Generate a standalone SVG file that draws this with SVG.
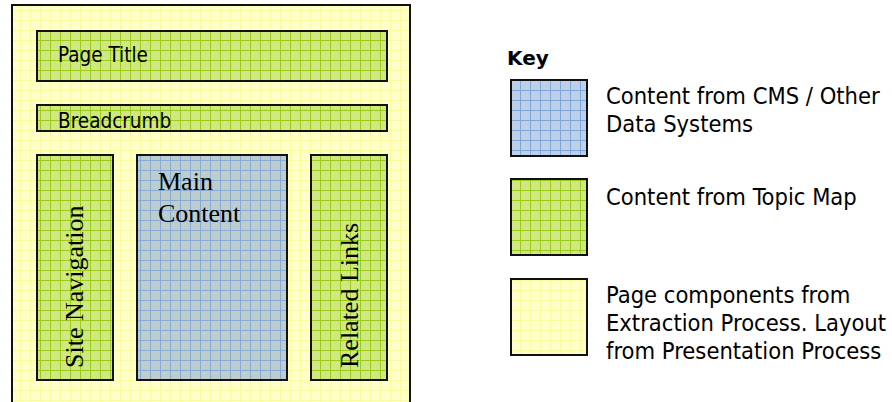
<svg xmlns="http://www.w3.org/2000/svg" width="892" height="402" viewBox="0 0 892 402">
  <style>
    .box { stroke: #111; stroke-width: 2; }
    .yellow { fill: url(#pYellow); }
    .green { fill: url(#pGreen); }
    .blue { fill: url(#pBlue); }
    .bluekey { fill: url(#pBlueKey); }
    .sans { font-family: "DejaVu Sans Condensed", "Liberation Sans", sans-serif; fill: #000; }
    .serif { font-family: "Liberation Serif", "Times New Roman", serif; font-size: 26px; fill: #000; }
    .lbl { font-size: 20.5px; }
    .keylbl { font-size: 23.5px; }
    .keyttl { font-family: "DejaVu Sans", "Liberation Sans", sans-serif; font-weight: bold; font-size: 20px; }
  </style>
  <defs>
    <pattern id="pYellow" patternUnits="userSpaceOnUse" width="10" height="10">
      <rect width="10" height="10" fill="#FFFFCC"/>
      <path d="M0 0.5H10M0.5 0V10" stroke="#FAFA9E" stroke-width="1" fill="none"/>
    </pattern>
    <pattern id="pGreen" patternUnits="userSpaceOnUse" width="10" height="10">
      <rect width="10" height="10" fill="#CFE882"/>
      <path d="M0 0.5H10M0.5 0V10" stroke="#9CCB1C" stroke-width="1" fill="none"/>
    </pattern>
    <pattern id="pBlue" patternUnits="userSpaceOnUse" width="10" height="10">
      <rect width="10" height="10" fill="#BCCDCB"/>
      <path d="M0 0.5H10M0.5 0V10" stroke="#86A9D6" stroke-width="1" fill="none"/>
    </pattern>
    <pattern id="pBlueKey" patternUnits="userSpaceOnUse" width="10" height="10">
      <rect width="10" height="10" fill="#BCD0EA"/>
      <path d="M0 0.5H10M0.5 0V10" stroke="#7FA6D6" stroke-width="1" fill="none"/>
    </pattern>
  </defs>
  <rect width="892" height="402" fill="#FFFFFF"/>

  <g id="page">
    <rect class="box yellow" x="12" y="5" width="398" height="410"/>
  </g>

  <g id="page-title">
    <rect class="box green" x="37" y="31" width="350" height="50"/>
    <text class="sans lbl" x="58" y="62">Page Title</text>
  </g>

  <g id="breadcrumb">
    <rect class="box green" x="37" y="105" width="350" height="26"/>
    <text class="sans lbl" x="58" y="128">Breadcrumb</text>
  </g>

  <g id="site-navigation">
    <rect class="box green" x="37" y="155" width="76" height="225"/>
    <text class="serif" transform="translate(83 368) rotate(-90)">Site Navigation</text>
  </g>

  <g id="main-content">
    <rect class="box blue" x="137" y="155" width="150" height="225"/>
    <text class="serif" x="158" y="190">Main</text>
    <text class="serif" x="158" y="222">Content</text>
  </g>

  <g id="related-links">
    <rect class="box green" x="311" y="155" width="76" height="225"/>
    <text class="serif" transform="translate(358 368) rotate(-90)">Related Links</text>
  </g>

  <g id="connectors"></g>

  <g id="key">
    <text class="keyttl" x="507" y="65">Key</text>
  </g>

  <g id="key-cms">
    <rect class="box bluekey" x="511" y="80" width="76" height="76"/>
    <text class="sans keylbl" x="606" y="104">Content from CMS / Other</text>
    <text class="sans keylbl" x="606" y="132">Data Systems</text>
  </g>

  <g id="key-topic-map">
    <rect class="box green" x="511" y="179" width="76" height="76"/>
    <text class="sans keylbl" x="606" y="205">Content from Topic Map</text>
  </g>

  <g id="key-presentation">
    <rect class="box yellow" x="511" y="279" width="76" height="76"/>
    <text class="sans keylbl" x="606" y="303">Page components from</text>
    <text class="sans keylbl" x="606" y="331">Extraction Process. Layout</text>
    <text class="sans keylbl" x="606" y="359">from Presentation Process</text>
  </g>
</svg>
